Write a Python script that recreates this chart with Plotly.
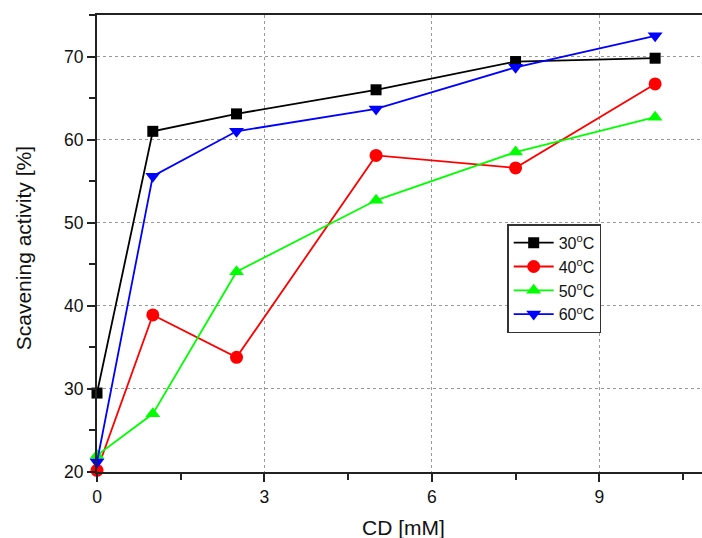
import plotly.graph_objects as go

cd = [0, 1, 2.5, 5, 7.5, 10]
t30 = [29.5, 61.0, 63.1, 66.0, 69.4, 69.8]
t40 = [20.2, 38.9, 33.8, 58.1, 56.6, 66.7]
t50 = [22.0, 27.0, 44.1, 52.7, 58.5, 62.7]
t60 = [21.2, 55.6, 61.0, 63.7, 68.7, 72.5]
names = ["30<sup>o</sup>C", "40<sup>o</sup>C", "50<sup>o</sup>C", "60<sup>o</sup>C"]

series = [
    (t30, names[0], "#000000", "square", 11),
    (t40, names[1], "#ff0000", "circle", 13),
    (t50, names[2], "#00ff00", "triangle-up", 13),
    (t60, names[3], "#0000ff", "triangle-down", 13),
]

FONT = "Liberation Sans, Arial"

fig = go.Figure()
for ys, nm, col, sym, sz in series:
    fig.add_trace(go.Scatter(
        x=cd, y=ys, name=nm, mode="lines+markers",
        line=dict(color=col, width=1.8),
        marker=dict(symbol=sym, size=sz, color=col),
        cliponaxis=False,
    ))

axis_common = dict(
    showline=True, linecolor="#222", linewidth=2,
    ticks="outside", ticklen=8, tickwidth=2, tickcolor="#222",
    showgrid=True, gridcolor="#999", griddash="dot", gridwidth=1,
    zeroline=False, automargin=False,
    tickfont=dict(family=FONT, size=17.5, color="#111"),
)

fig.update_xaxes(
    range=[0, 10.84], tickvals=[0, 3, 6, 9],
    minor=dict(tickvals=[1.5, 4.5, 7.5, 10.5], ticks="outside", ticklen=6, tickwidth=2, tickcolor="#222", showgrid=False),
    mirror=True,
    **axis_common,
)
fig.update_yaxes(
    range=[20, 75], tickvals=[20, 30, 40, 50, 60, 70],
    minor=dict(tickvals=[25, 35, 45, 55, 65, 75], ticks="outside", ticklen=6, tickwidth=2, tickcolor="#222", showgrid=False),
    mirror=False,
    **axis_common,
)

fig.add_annotation(text="CD [mM]", xref="paper", yref="paper", x=0.507, y=-0.1225,
                   xanchor="center", yanchor="middle", showarrow=False,
                   font=dict(family=FONT, size=21, color="#111"))
fig.add_annotation(text="Scavening activity [%]", xref="paper", yref="paper", x=-0.122, y=0.49,
                   xanchor="center", yanchor="middle", showarrow=False, textangle=-90,
                   font=dict(family=FONT, size=21, color="#111"))

fig.update_layout(
    width=702, height=538,
    margin=dict(l=97, r=0, t=15, b=66),
    plot_bgcolor="white", paper_bgcolor="white",
    showlegend=True,
    legend=dict(
        x=0.678, y=0.542, xanchor="left", yanchor="top",
        bgcolor="white", bordercolor="#333", borderwidth=1.5,
        font=dict(family=FONT, size=16, color="#111"),
        itemwidth=40,
    ),
)

fig.write_html("out.html", config={"displayModeBar": False},
               post_script="document.body.style.margin='0';document.body.style.overflow='hidden';")
